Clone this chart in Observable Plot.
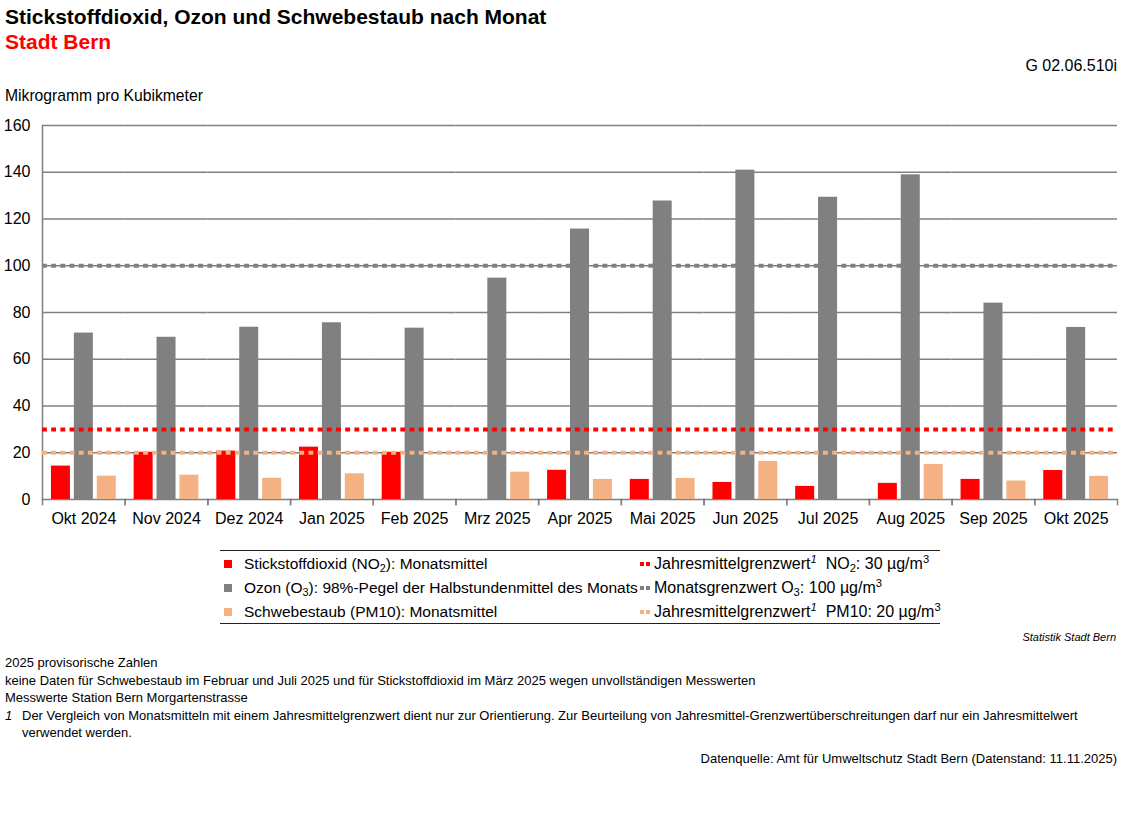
<!DOCTYPE html>
<html><head><meta charset="utf-8">
<script src="https://cdn.jsdelivr.net/npm/d3@7"></script>
<script src="https://cdn.jsdelivr.net/npm/@observablehq/plot@0.6"></script>
<style>
body{margin:0;background:#fff;font-family:"Liberation Sans",Arial,sans-serif;color:#000}
#wrap{position:relative;width:1127px;height:839px;overflow:hidden}
.abs{position:absolute;white-space:nowrap;line-height:1}
#chart{position:absolute;left:0;top:110px}
.legend{position:absolute;left:220px;top:550px;width:720px;height:72px;border-top:1px solid #222;border-bottom:1px solid #222;font-size:15.5px}
.li{position:absolute;white-space:nowrap;line-height:1;transform:translateY(-50%)}
.sq{position:absolute;width:8px;height:8px;transform:translateY(-50%)}
.dots{position:absolute;height:4px;width:10px;transform:translateY(-50%)}
.dots span{position:absolute;top:0;width:4px;height:4px}
sub{font-size:0.7em;vertical-align:-0.25em;line-height:0}
sup{font-size:0.7em;vertical-align:0.5em;line-height:0}
.foot{font-size:13px}
</style></head><body><div id="wrap">
<div class="abs" style="left:5px;top:6px;font-size:21px;font-weight:bold">Stickstoffdioxid, Ozon und Schwebestaub nach Monat</div>
<div class="abs" style="left:5px;top:31px;font-size:21px;font-weight:bold;color:#ff0000">Stadt Bern</div>
<div class="abs" style="right:10px;top:58px;font-size:16px">G 02.06.510i</div>
<div class="abs" style="left:5px;top:88px;font-size:15.7px">Mikrogramm pro Kubikmeter</div>
<div id="chart"></div>
<div class="legend" id="legend"></div>
<div class="abs" style="right:11px;top:632px;font-size:11px;font-style:italic">Statistik Stadt Bern</div>
<div class="abs foot" style="left:5px;top:656px">2025 provisorische Zahlen</div>
<div class="abs foot" style="left:5px;top:674px">keine Daten für Schwebestaub im Februar und Juli 2025 und für Stickstoffdioxid im März 2025 wegen unvollständigen Messwerten</div>
<div class="abs foot" style="left:5px;top:691px">Messwerte Station Bern Morgartenstrasse</div>
<div class="abs foot" style="left:5px;top:709px;font-style:italic">1</div>
<div class="abs foot" style="left:22px;top:709px">Der Vergleich von Monatsmitteln mit einem Jahresmittelgrenzwert dient nur zur Orientierung. Zur Beurteilung von Jahresmittel-Grenzwertüberschreitungen darf nur ein Jahresmittelwert</div>
<div class="abs foot" style="left:22px;top:726px">verwendet werden.</div>
<div class="abs foot" style="right:10px;top:752px">Datenquelle: Amt für Umweltschutz Stadt Bern (Datenstand: 11.11.2025)</div>
</div>
<script>
const months = ["Okt 2024","Nov 2024","Dez 2024","Jan 2025","Feb 2025","Mrz 2025","Apr 2025","Mai 2025","Jun 2025","Jul 2025","Aug 2025","Sep 2025","Okt 2025"];
const no2  = [14.3, 20.2, 20.7, 22.4, 20.2, null, 12.5, 8.6, 7.3, 5.6, 6.9, 8.6, 12.4];
const o3   = [71.2, 69.4, 73.7, 75.6, 73.3, 94.7, 115.7, 127.7, 140.9, 129.3, 138.9, 84.0, 73.6];
const pm10 = [10.0, 10.4, 9.1, 11.0, null, 11.7, 8.6, 9.0, 16.3, null, 15.0, 7.9, 9.9];
const seriesKeys = ["NO2", "O3", "PM10"];
const seriesColors = ["#ff0000", "#808080", "#f4b183"];
const limitKeys = ["NO2", "O3", "PM10"];
const limitValues = [30, 100, 20];
const yTicks = [0, 20, 40, 60, 80, 100, 120, 140, 160];

const seriesValues = {NO2: no2, O3: o3, PM10: pm10};
const rows = months.flatMap((m, i) => seriesKeys.map(s => ({month: m, series: s, value: seriesValues[s][i]})))
  .filter(d => d.value != null);
const limits = limitKeys.map((k, i) => ({series: k, value: limitValues[i]}));
const colorOf = Object.fromEntries(seriesKeys.map((k, i) => [k, seriesColors[i]]));

const W = 1127, ML = 42, MR = 10;
// dash period chosen so the dotted pattern stays continuous across the month facets
const facetW = (W - ML - MR) / months.length;
const period = facetW / 9;
const dash = `${(period * 0.53).toFixed(3)},${(period * 0.47).toFixed(3)}`;

const grid = "#808080";
const limitRule = (data) => Plot.ruleY(data, {y: "value", stroke: d => colorOf[d.series], strokeWidth: 4, strokeDasharray: dash});
const chart = Plot.plot({
  width: W, height: 420,
  marginTop: 15, marginRight: MR, marginBottom: 31, marginLeft: ML,
  style: {fontFamily: '"Liberation Sans", Arial, sans-serif', fontSize: "16px", color: "#000", background: "transparent", overflow: "visible"},
  fx: {domain: months, padding: 0, round: false, label: null},
  x: {domain: seriesKeys, paddingInner: 0.17, paddingOuter: 0.39, round: false, axis: null},
  y: {domain: [0, 160], ticks: yTicks, label: null},
  color: {domain: seriesKeys, range: seriesColors},
  marks: [
    Plot.gridY(yTicks, {stroke: grid, strokeOpacity: 1, strokeWidth: 1.5}),
    Plot.frame({anchor: "left", facetAnchor: "left", stroke: grid, strokeWidth: 1.5}),
    Plot.frame({anchor: "left", stroke: grid, strokeWidth: 1.5, insetTop: 374, insetBottom: -5}),
    Plot.frame({anchor: "right", stroke: grid, strokeWidth: 1.5, insetTop: 374, insetBottom: -5}),
    limitRule(limits.filter(d => d.series === "O3")),
    Plot.barY(rows, {fx: "month", x: "series", y: "value", fill: "series"}),
    limitRule(limits.filter(d => d.series !== "O3")),
    Plot.axisY(yTicks, {tickSize: 0, tickPadding: 12, label: null, fontSize: 16}),
    Plot.axisFx({anchor: "bottom", tickSize: 0, tickPadding: 13, label: null, fontSize: 16})
  ]
});
document.getElementById("chart").appendChild(chart);

// legend (text items, colours from the series arrays)
const legendBars = [
  {key: "NO2", html: "Stickstoffdioxid (NO<sub>2</sub>): Monatsmittel"},
  {key: "O3", html: "Ozon (O<sub>3</sub>): 98%-Pegel der Halbstundenmittel des Monats"},
  {key: "PM10", html: "Schwebestaub (PM10): Monatsmittel"}
];
const legendLimits = [
  {key: "NO2", html: "Jahresmittelgrenzwert<sup><i>1</i></sup>&nbsp; NO<sub>2</sub>: " + limitValues[0] + " µg/m<sup>3</sup>"},
  {key: "O3", html: "Monatsgrenzwert O<sub>3</sub>: " + limitValues[1] + " µg/m<sup>3</sup>"},
  {key: "PM10", html: "Jahresmittelgrenzwert<sup><i>1</i></sup>&nbsp; PM10: " + limitValues[2] + " µg/m<sup>3</sup>"}
];
const lg = document.getElementById("legend");
const rowY = [13, 36.5, 61];
legendBars.forEach((d, i) => {
  lg.insertAdjacentHTML("beforeend",
    `<div class="sq" style="left:4px;top:${rowY[i]}px;background:${colorOf[d.key]}"></div>` +
    `<div class="li" style="left:24px;top:${rowY[i]}px">${d.html}</div>`);
});
legendLimits.forEach((d, i) => {
  const c = colorOf[d.key];
  lg.insertAdjacentHTML("beforeend",
    `<div class="dots" style="left:420px;top:${rowY[i]}px"><span style="left:0;background:${c}"></span><span style="left:6px;background:${c}"></span></div>` +
    `<div class="li" style="left:434px;top:${rowY[i]}px;font-size:16px">${d.html}</div>`);
});
</script>
</body></html>
